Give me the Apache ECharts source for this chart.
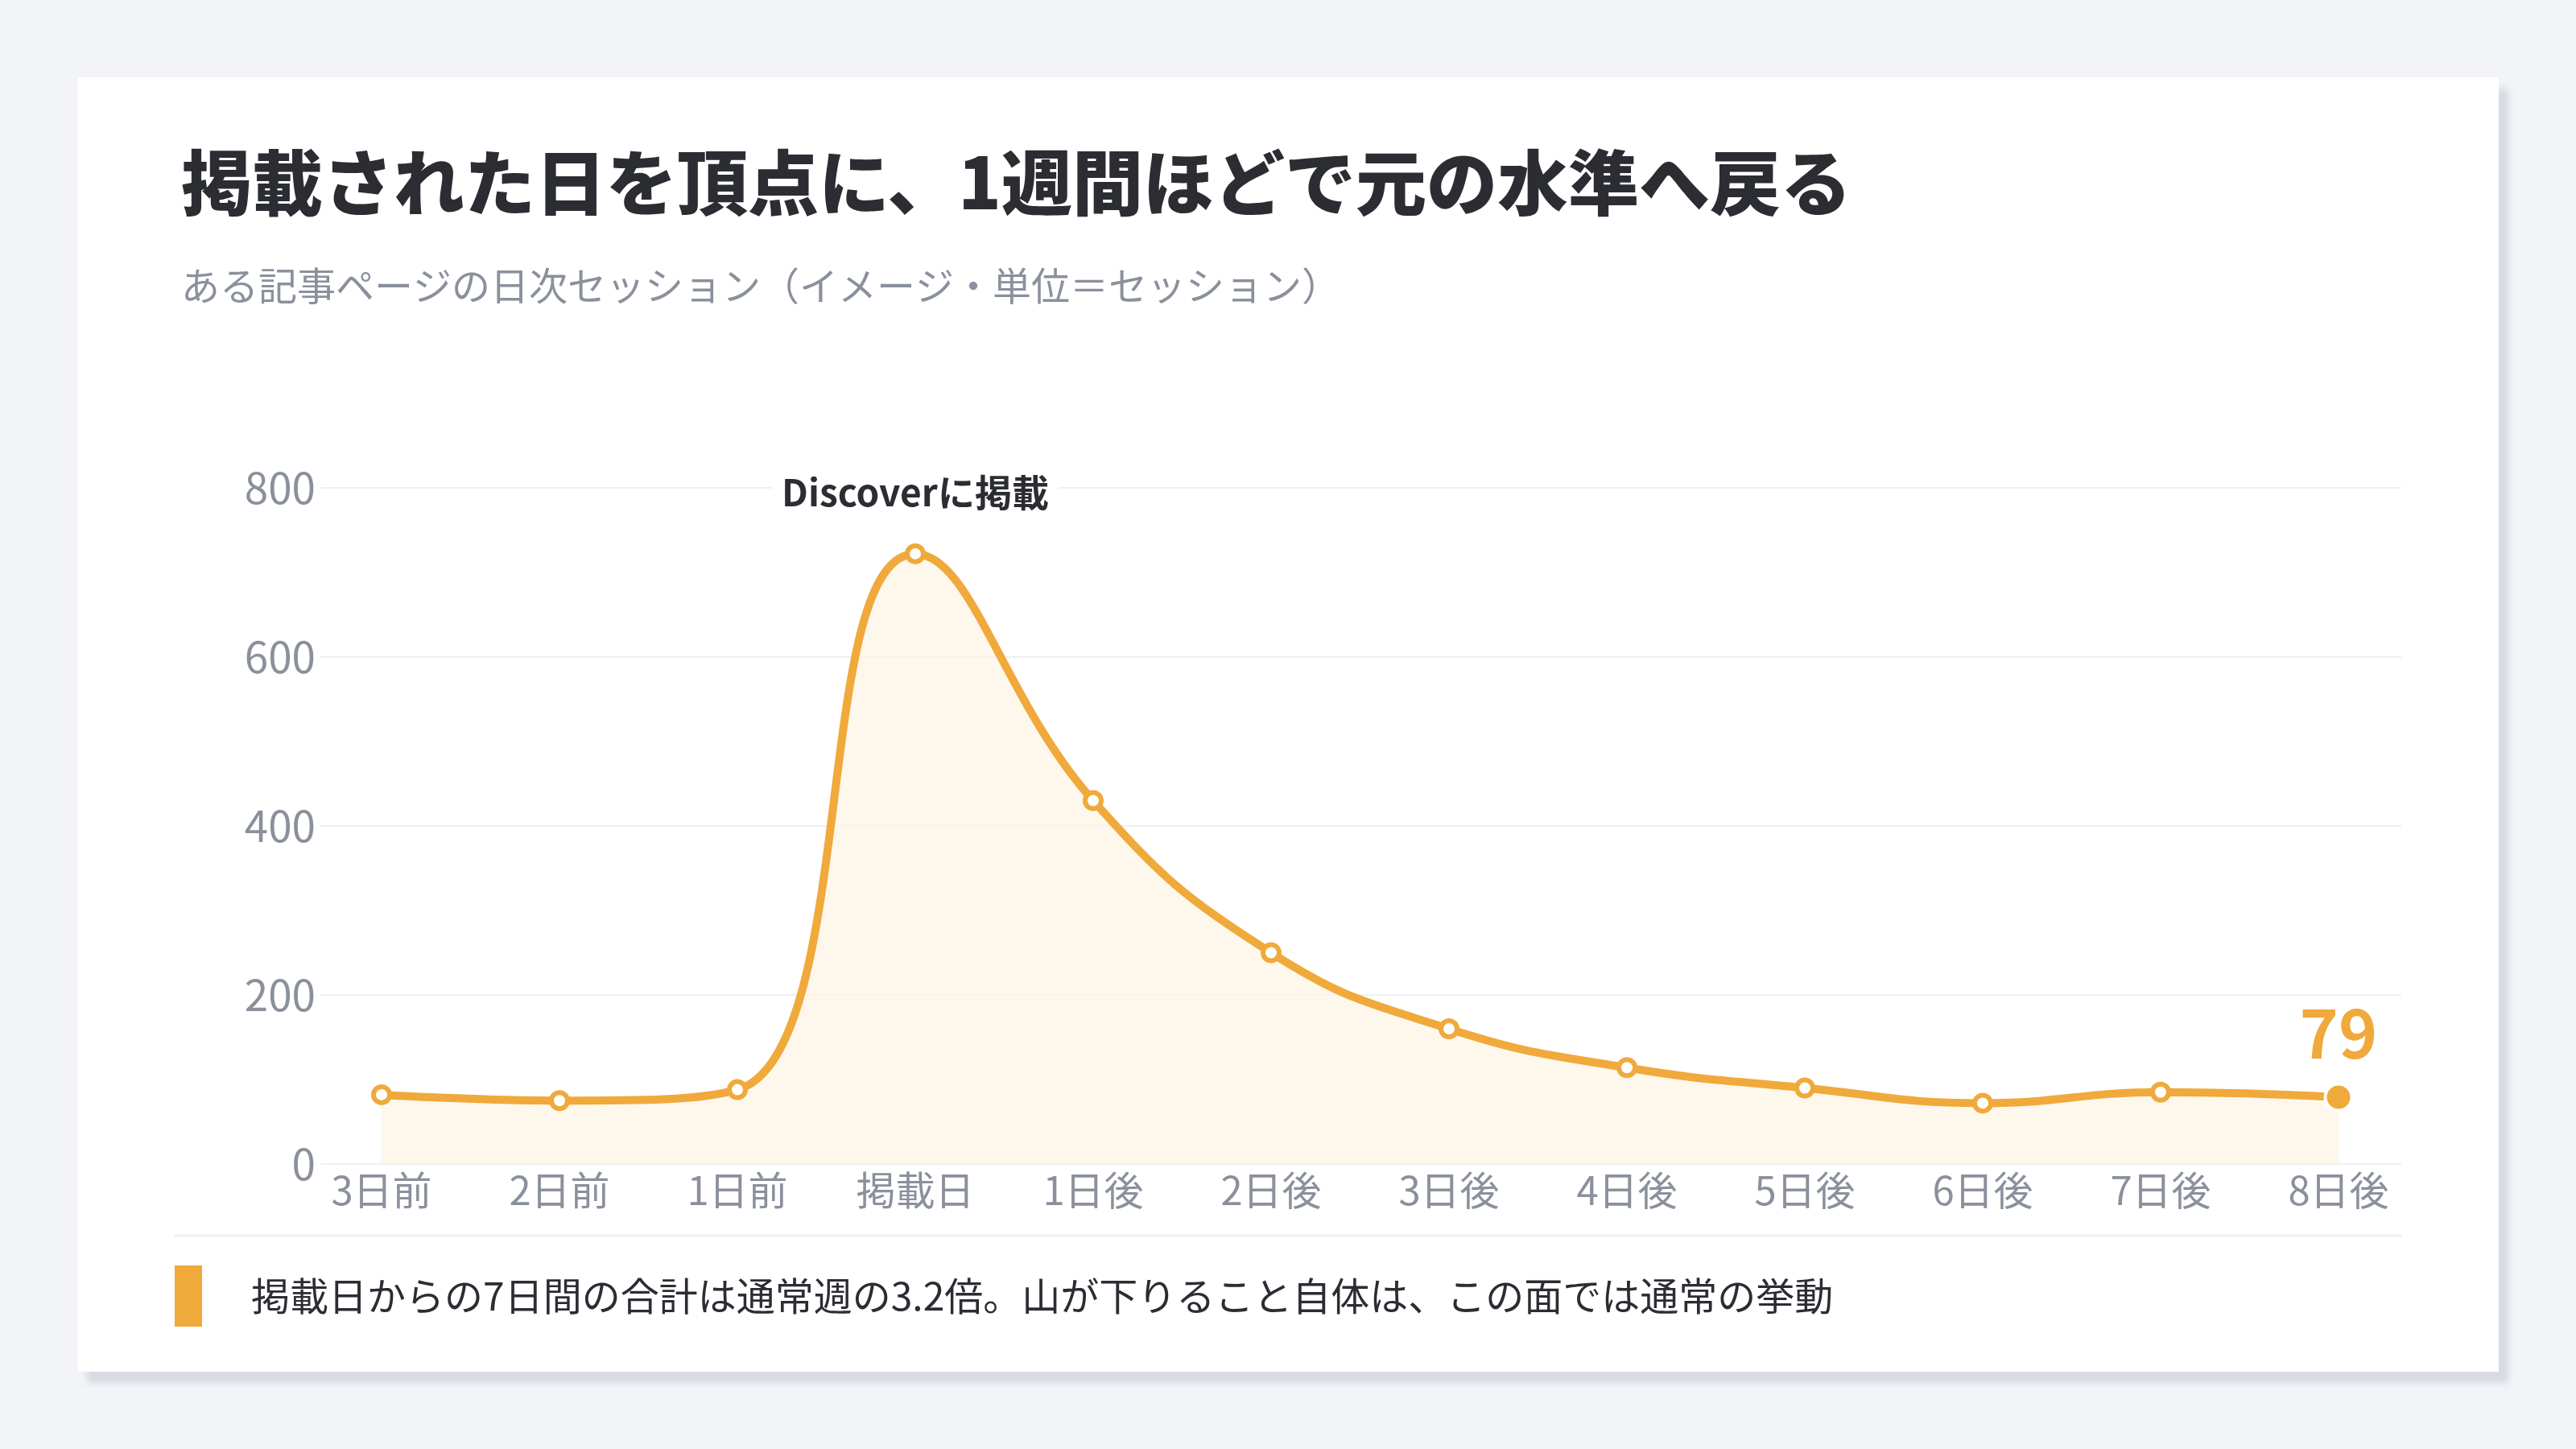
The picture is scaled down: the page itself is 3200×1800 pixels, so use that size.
<!DOCTYPE html>
<html lang="ja">
<head>
<meta charset="utf-8">
<title>掲載された日を頂点に、1週間ほどで元の水準へ戻る</title>
<script src="https://cdn.jsdelivr.net/npm/echarts@6/dist/echarts.min.js"></script>
<style>
    html, body { margin: 0; padding: 0; background: #f3f4f8; }
    .card {
        position: absolute; left: 96px; top: 96px; width: 3008px; height: 1608px;
        background: #fff; box-shadow: 12px 14px 8px rgba(196, 201, 212, 0.6);
    }
    #chart { position: absolute; left: 0; top: 0; width: 3200px; height: 1800px; }
</style>
</head>
<body>
<div class="card"></div>
<div id="chart"></div>
<script>
// NOTE - データ
const days = ['3日前', '2日前', '1日前', '掲載日', '1日後', '2日後', '3日後', '4日後', '5日後', '6日後', '7日後', '8日後']
const sessions = [82, 75, 88, 722, 430, 250, 160, 114, 90, 72, 85, 79]
const yTicks = [0, 200, 400, 600, 800]
const peakNote = 'Discoverに掲載'
const footNote = '掲載日からの7日間の合計は通常週の3.2倍。山が下りること自体は、この面では通常の挙動'

const FONT = '"Noto Sans CJK JP", "Noto Sans", sans-serif'
const ORANGE = '#f0a93b'
const GREY = '#8a909c'
const DARK = '#2b2d33'

const peakIdx = sessions.indexOf(Math.max(...sessions))
const lastIdx = sessions.length - 1

// NOTE - 各点のスタイル（頂点に注記、最終点に値）
const seriesData = sessions.map((v, i) => {
    if (i === peakIdx) {
        return {
            value: v,
            label: {
                show: true,
                position: 'top',
                distance: 34,
                formatter: peakNote,
                fontFamily: FONT,
                fontSize: 46,
                fontWeight: 'bold',
                color: DARK,
                lineHeight: 50,
                backgroundColor: '#fff',
                padding: [4, 12]
            }
        }
    }
    if (i === lastIdx) {
        return {
            value: v,
            symbolSize: 33,
            itemStyle: { color: ORANGE, borderColor: '#fff', borderWidth: 4 },
            label: {
                show: true,
                position: 'top',
                distance: 20,
                fontFamily: FONT,
                fontSize: 82,
                fontWeight: 'bold',
                color: ORANGE,
                lineHeight: 82
            }
        }
    }
    return v
})

const myChart = echarts.init(document.querySelector('#chart'))
const option = {
    backgroundColor: 'transparent',
    animation: false,
    title: [
        {
            text: '掲載された日を頂点に、1週間ほどで元の水準へ戻る',
            left: 220,
            top: 178,
            textStyle: { fontFamily: FONT, fontSize: 88, fontWeight: 900, color: DARK }
        },
        {
            text: 'ある記事ページの日次セッション（イメージ・単位＝セッション）',
            left: 220,
            top: 326,
            textStyle: { fontFamily: FONT, fontSize: 48, fontWeight: 'normal', color: GREY }
        }
    ],
    grid: [
        // データ用
        { left: 474, right: 295, top: 606, bottom: 354 },
        // 目盛線・y軸ラベル用
        { left: 398, right: 217, top: 606, bottom: 354 }
    ],
    xAxis: [
        {
            type: 'category',
            gridIndex: 0,
            data: days,
            boundaryGap: false,
            axisLine: { show: false },
            axisTick: { show: false },
            axisLabel: { fontFamily: FONT, fontSize: 49, color: GREY, margin: 8 }
        },
        {
            type: 'value',
            gridIndex: 1,
            show: false
        }
    ],
    yAxis: [
        {
            type: 'value',
            gridIndex: 0,
            min: yTicks[0],
            max: yTicks[yTicks.length - 1],
            interval: 200,
            axisLabel: { show: false },
            axisLine: { show: false },
            axisTick: { show: false },
            splitLine: { show: false }
        },
        {
            type: 'value',
            gridIndex: 1,
            min: yTicks[0],
            max: yTicks[yTicks.length - 1],
            interval: 200,
            axisLine: { show: false },
            axisTick: { show: false },
            axisLabel: { fontFamily: FONT, fontSize: 53, color: GREY, margin: 6 },
            splitLine: { lineStyle: { color: '#eef0f4', width: 2 } }
        }
    ],
    series: [
        {
            type: 'line',
            xAxisIndex: 0,
            yAxisIndex: 0,
            data: seriesData,
            smooth: 0.45,
            symbol: 'circle',
            symbolSize: 20,
            showAllSymbol: true,
            lineStyle: { color: ORANGE, width: 10 },
            itemStyle: { color: '#fff', borderColor: ORANGE, borderWidth: 6 },
            areaStyle: { color: '#fdf3e4', origin: 'start' },
            z: 3
        }
    ],
    graphic: [
        {
            type: 'line',
            shape: { x1: 216, y1: 1535, x2: 2983, y2: 1535 },
            style: { stroke: '#eceff3', lineWidth: 3 }
        },
        {
            type: 'rect',
            shape: { x: 217, y: 1572, width: 34, height: 76 },
            style: { fill: ORANGE }
        },
        {
            type: 'text',
            x: 312,
            y: 1610,
            style: {
                text: footNote,
                fontFamily: FONT,
                fontSize: 48,
                fill: DARK,
                verticalAlign: 'middle'
            }
        }
    ]
}
myChart.setOption(option)
</script>
</body>
</html>
